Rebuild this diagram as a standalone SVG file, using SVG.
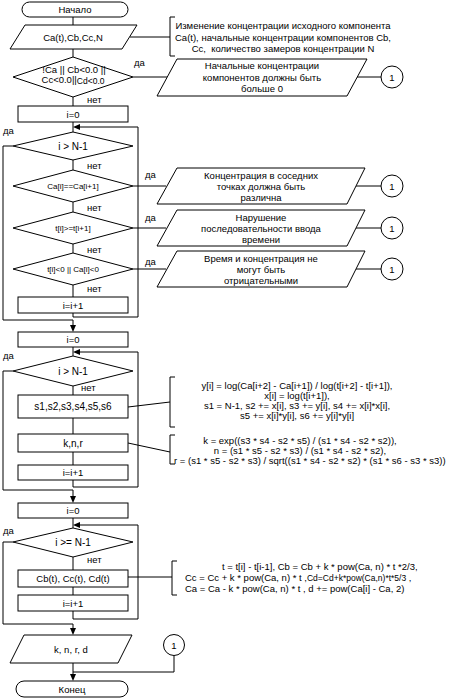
<svg xmlns="http://www.w3.org/2000/svg" width="450" height="700" viewBox="0 0 450 700">
<defs>
<style>
.s{fill:#fff;stroke:#000;stroke-width:1}
.l{fill:none;stroke:#000;stroke-width:1}
.a{fill:#000;stroke:none}
text{font-family:"Liberation Sans",Arial,sans-serif;font-size:9.5px;fill:#000}
.m{text-anchor:middle}
.f10{font-size:10px}
.f8{font-size:8px}
</style>
</defs>
<rect width="450" height="700" fill="#fff"/>
<g id="connectors">
<path class="l" d="M73,17 V25"/>
<path class="l" d="M73,49 V57"/>
<path class="l" d="M130,37 H170"/>
<path class="l" d="M133,77 H167"/>
<path class="l" d="M357,77 H381"/>
<path class="l" d="M73,97 V106"/>
<path class="l" d="M73,122 V132"/>
<path class="l" d="M73,313 V317 H138 V127 H79"/>
<polygon class="a" points="73,127 80,124 80,130"/>
<path class="l" d="M13,146 H3 V320 H73 V326"/>
<polygon class="a" points="73,332 70,325 76,325"/>
<path class="l" d="M73,160 V170"/>
<path class="l" d="M133,186 H166"/>
<path class="l" d="M356,186 H381"/>
<path class="l" d="M73,202 V212"/>
<path class="l" d="M133,228 H166"/>
<path class="l" d="M356,228 H381"/>
<path class="l" d="M73,244 V253"/>
<path class="l" d="M133,269 H166"/>
<path class="l" d="M356,269 H381"/>
<path class="l" d="M73,285 V297"/>
<path class="l" d="M73,347 V356"/>
<path class="l" d="M73,480 V487 H138 V352 H79"/>
<polygon class="a" points="73,352 80,349 80,355"/>
<path class="l" d="M13,371 H3 V490 H73 V497"/>
<polygon class="a" points="73,503 70,496 76,496"/>
<path class="l" d="M73,386 V395"/>
<path class="l" d="M128,407 L170,402"/>
<path class="l" d="M73,418 V434"/>
<path class="l" d="M128,443 L170,452"/>
<path class="l" d="M73,452 V465"/>
<path class="l" d="M73,518 V528"/>
<path class="l" d="M73,611 V619 H138 V525 H79"/>
<polygon class="a" points="73,525 80,522 80,528"/>
<path class="l" d="M13,542 H3 V624 H73 V629"/>
<polygon class="a" points="73,635 70,628 76,628"/>
<path class="l" d="M73,557 V570"/>
<path class="l" d="M128,577 H172"/>
<path class="l" d="M73,587 V595"/>
<path class="l" d="M73,663 V675"/>
<path class="l" d="M174,655.5 V672 H73"/>
<polygon class="a" points="73,681 70,674 76,674"/>
</g>
<g id="labels">
<text x="134" y="66">да</text>
<text x="87" y="102.5">нет</text>
<text x="3" y="133.5">да</text>
<text x="87" y="168.5">нет</text>
<text x="145" y="177.5">да</text>
<text x="87" y="210.5">нет</text>
<text x="145" y="220.5">да</text>
<text x="87" y="253">нет</text>
<text x="145" y="265">да</text>
<text x="87" y="292">нет</text>
<text x="3" y="358.5">да</text>
<text x="81" y="390.5">нет</text>
<text x="3" y="533.5">да</text>
<text x="87" y="563">нет</text>
</g>
<g id="start">
<rect class="s" x="22" y="2" width="106" height="15" rx="7.5"/>
<text class="m" x="75" y="13">Начало</text>
</g>
<g id="input">
<polygon class="s" points="25,25 137,25 122,49 10,49"/>
<text class="m" x="73" y="40.5">Ca(t),Cb,Cc,N</text>
</g>
<g id="note-input">
<path class="l" d="M175,17 H170 V56 H175"/>
<text class="m" x="283" y="28.5">Изменение концентрации исходного компонента</text>
<text class="m" x="283" y="40.5">Ca(t), начальные концентрации компонентов Cb,</text>
<text class="m" x="283" y="51.5" xml:space="preserve">Cc,  количество замеров концентрации N</text>
</g>
<g id="check-initial">
<polygon class="s" points="73,57 133,77 73,97 13,77"/>
<text class="m" x="74" y="73" style="font-size:9.5px">!Ca || Cb&lt;0.0 ||</text>
<text class="m" x="73" y="83" style="font-size:9.5px">Cc&lt;0.0||<tspan style="font-size:8.5px" dy="1">Cd&lt;0.0</tspan></text>
</g>
<g id="err-initial">
<polygon class="s" points="177,59 367,59 347,96 157,96"/>
<text class="m" x="262" y="68.5">Начальные концентрации</text>
<text class="m" x="262" y="80.5">компонентов должны быть</text>
<text class="m" x="262" y="91.5">больше 0</text>
</g>
<g id="conn-1a">
<circle class="s" cx="392" cy="77" r="11"/>
<text class="m" x="392" y="80.5">1</text>
</g>
<g id="init-i-1">
<rect class="s" x="18" y="106" width="110" height="16"/>
<text class="m" x="73" y="117.5">i=0</text>
</g>
<g id="loop-1">
<polygon class="s" points="73,132 133,146 73,160 13,146"/>
<text class="m f10" x="73" y="149.5">i &gt; N-1</text>
</g>
<g id="check-ca">
<polygon class="s" points="73,170 133,186 73,202 13,186"/>
<text class="m f8" x="73" y="189">Ca[i]==Ca[i+1]</text>
</g>
<g id="err-ca">
<polygon class="s" points="177,168 365,168 347,204 157,204"/>
<text class="m" x="261" y="178.5">Концентрация в соседних</text>
<text class="m" x="261" y="189.5">точках должна быть</text>
<text class="m" x="261" y="200.5">различна</text>
</g>
<g id="conn-1b">
<circle class="s" cx="392" cy="186" r="11"/>
<text class="m" x="392" y="189.5">1</text>
</g>
<g id="check-t">
<polygon class="s" points="73,212 133,228 73,244 13,228"/>
<text class="m f8" x="73" y="231">t[i]&gt;=t[i+1]</text>
</g>
<g id="err-t">
<polygon class="s" points="177,210 365,210 347,246 157,246"/>
<text class="m" x="261" y="220.5">Нарушение</text>
<text class="m" x="261" y="231.5">последовательности ввода</text>
<text class="m" x="261" y="242.5">времени</text>
</g>
<g id="conn-1c">
<circle class="s" cx="392" cy="228" r="11"/>
<text class="m" x="392" y="231.5">1</text>
</g>
<g id="check-neg">
<polygon class="s" points="73,253 133,269 73,285 13,269"/>
<text class="m f8" x="73" y="272">t[i]&lt;0 || Ca[i]&lt;0</text>
</g>
<g id="err-neg">
<polygon class="s" points="177,251 365,251 347,287 157,287"/>
<text class="m" x="261" y="261.5">Время и концентрация не</text>
<text class="m" x="261" y="272.5">могут быть</text>
<text class="m" x="261" y="283.5">отрицательными</text>
</g>
<g id="conn-1d">
<circle class="s" cx="392" cy="269" r="11"/>
<text class="m" x="392" y="272.5">1</text>
</g>
<g id="inc-1">
<rect class="s" x="18" y="297" width="110" height="16"/>
<text class="m" x="73" y="308.5">i=i+1</text>
</g>
<g id="init-i-2">
<rect class="s" x="18" y="332" width="110" height="15"/>
<text class="m" x="73" y="343">i=0</text>
</g>
<g id="loop-2">
<polygon class="s" points="73,356 133,371 73,386 13,371"/>
<text class="m f10" x="73" y="374.5">i &gt; N-1</text>
</g>
<g id="sums">
<rect class="s" x="18" y="395" width="110" height="23"/>
<text class="m f10" x="73" y="410">s1,s2,s3,s4,s5,s6</text>
</g>
<g id="note-sums">
<path class="l" d="M175,377 H170 V427 H175"/>
<text class="m" x="297" y="388.5">y[i] = log(Ca[i+2] - Ca[i+1]) / log(t[i+2] - t[i+1]),</text>
<text class="m" x="297" y="398.5">x[i] = log(t[i+1]),</text>
<text class="m" x="297" y="408.5">s1 = N-1, s2 += x[i], s3 += y[i], s4 += x[i]*x[i],</text>
<text class="m" x="297" y="418.5">s5 += x[i]*y[i], s6 += y[i]*y[i]</text>
</g>
<g id="knr">
<rect class="s" x="18" y="434" width="110" height="18"/>
<text class="m f10" x="73" y="446.5">k,n,r</text>
</g>
<g id="note-knr">
<path class="l" d="M175,435 H170 V464 H175"/>
<text class="m" x="300" y="443.5">k = exp((s3 * s4 - s2 * s5) / (s1 * s4 - s2 * s2)),</text>
<text class="m" x="300" y="453.5">n = (s1 * s5 - s2 * s3) / (s1 * s4 - s2 * s2),</text>
<text x="174" y="463.5">r = (s1 * s5 - s2 * s3) / sqrt((s1 * s4 - s2 * s2) * (s1 * s6 - s3 * s3))</text>
</g>
<g id="inc-2">
<rect class="s" x="18" y="465" width="110" height="15"/>
<text class="m" x="73" y="476">i=i+1</text>
</g>
<g id="init-i-3">
<rect class="s" x="18" y="503" width="110" height="15"/>
<text class="m" x="73" y="514">i=0</text>
</g>
<g id="loop-3">
<polygon class="s" points="73,528 133,542 73,557 13,542"/>
<text class="m f10" x="73" y="546">i &gt;= N-1</text>
</g>
<g id="conc">
<rect class="s" x="18" y="570" width="110" height="17"/>
<text class="m" x="73" y="581.5">Cb(t), Cc(t), Cd(t)</text>
</g>
<g id="note-conc">
<path class="l" d="M177,561 H172 V595 H177"/>
<text x="222" y="569.5">t = t[i] - t[i-1], Cb = Cb + k * pow(Ca, n) * t *2/3,</text>
<text x="185" y="580.5">Cc = Cc + k * pow(Ca, n) * t ,<tspan style="font-size:8.5px">Cd=Cd+k*pow(Ca,n)*t*5/3</tspan> ,</text>
<text x="185" y="591.5">Ca = Ca - k * pow(Ca, n) * t , d += pow(Ca[i] - Ca, 2)</text>
</g>
<g id="inc-3">
<rect class="s" x="18" y="595" width="110" height="16"/>
<text class="m" x="73" y="606.5">i=i+1</text>
</g>
<g id="output">
<polygon class="s" points="24,635 132,635 118,663 10,663"/>
<text class="m" x="71" y="652.5">k, n, r, d</text>
</g>
<g id="conn-1e">
<circle class="s" cx="174" cy="645" r="10.5"/>
<text class="m" x="174" y="648.5">1</text>
</g>
<g id="end">
<rect class="s" x="16" y="681" width="112" height="16" rx="8"/>
<text class="m" x="72" y="692.5">Конец</text>
</g>
</svg>
